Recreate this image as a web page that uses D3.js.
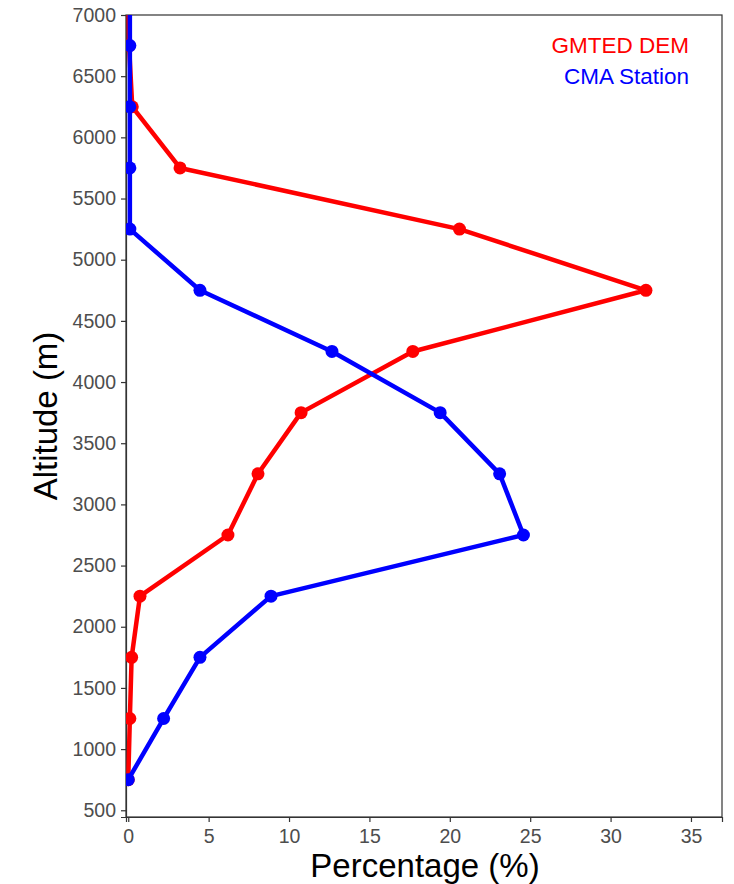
<!DOCTYPE html>
<html>
<head>
<meta charset="utf-8">
<script src="https://cdn.jsdelivr.net/npm/d3@7"></script>
<style>
  html, body { margin: 0; padding: 0; background: #fff; }
  svg { display: block; }
  text { font-family: Arial, "Liberation Sans", sans-serif; }
</style>
</head>
<body>
<svg id="chart" width="734" height="884"></svg>
<script>
// Altitude bin centres (m)
const altitudes = [750, 1250, 1750, 2250, 2750, 3250, 3750, 4250, 4750, 5250, 5750, 6250, 6750, 7250];
// Share of area / stations per altitude bin (%)
const demValues = [0, 0.1, 0.21, 0.73, 6.2, 8.07, 10.75, 17.7, 32.2, 20.6, 3.22, 0.25, 0.05, 0];
const stationValues = [0, 2.2, 4.46, 8.88, 24.58, 23.1, 19.4, 12.67, 4.46, 0.1, 0.1, 0.1, 0.1, 0.1];
const seriesNames = ["GMTED DEM", "CMA Station"];
const seriesColors = ["#ff0000", "#0000ff"];
const xTicks = [0, 5, 10, 15, 20, 25, 30, 35];
const yTicks = [500, 1000, 1500, 2000, 2500, 3000, 3500, 4000, 4500, 5000, 5500, 6000, 6500, 7000];

const svg = d3.select("#chart");
const pLeft = 126, pRight = 722, pTop = 15, pBottom = 817;

const x = d3.scaleLinear().domain([-0.14, 36.93]).range([pLeft, pRight]);
const y = d3.scaleLinear().domain([445, 7000]).range([pBottom, pTop]);

svg.append("defs").append("clipPath").attr("id", "panel")
  .append("rect").attr("x", pLeft).attr("y", pTop)
  .attr("width", pRight - pLeft).attr("height", pBottom - pTop);

// panel border
svg.append("rect")
  .attr("x", pLeft).attr("y", pTop)
  .attr("width", pRight - pLeft).attr("height", pBottom - pTop)
  .attr("fill", "none").attr("stroke", "#333").attr("stroke-width", 1.2);

// axes
const xAxis = svg.append("g").attr("transform", `translate(0,${pBottom})`)
  .call(d3.axisBottom(x).tickValues(xTicks).tickSize(5).tickPadding(7).tickFormat(d3.format("d")));
const yAxis = svg.append("g").attr("transform", `translate(${pLeft},0)`)
  .call(d3.axisLeft(y).tickValues(yTicks).tickSize(5).tickPadding(5).tickFormat(d3.format("d")));
[xAxis, yAxis].forEach(g => {
  g.select(".domain").attr("stroke", "#333").attr("stroke-width", 1.2);
  g.selectAll(".tick line").attr("stroke", "#333").attr("stroke-width", 1.2);
  g.selectAll(".tick text").attr("fill", "#4d4d4d").style("font-size", "19.5px")
    .style("font-family", "Arial, 'Liberation Sans', sans-serif");
});

// series
const series = [demValues, stationValues];
const plot = svg.append("g").attr("clip-path", "url(#panel)");
const line = d3.line().x(d => x(d[0])).y(d => y(d[1]));

series.forEach((vals, i) => {
  const pts = vals.map((v, k) => [v, altitudes[k]]);
  plot.append("path").datum(pts)
    .attr("d", line).attr("fill", "none")
    .attr("stroke", seriesColors[i]).attr("stroke-width", 4.5)
    .attr("stroke-linejoin", "round");
  plot.selectAll(null).data(pts).enter().append("circle")
    .attr("cx", d => x(d[0])).attr("cy", d => y(d[1]))
    .attr("r", 6.5).attr("fill", seriesColors[i]);
});

// legend
seriesNames.forEach((name, i) => {
  svg.append("text")
    .attr("x", 689).attr("y", 53 + i * 31)
    .attr("text-anchor", "end")
    .attr("fill", seriesColors[i])
    .style("font-size", "22.5px")
    .text(name);
});

// axis titles
svg.append("text")
  .attr("x", 425).attr("y", 877)
  .attr("text-anchor", "middle")
  .style("font-size", "33px").attr("fill", "#000")
  .text("Percentage (%)");
svg.append("text")
  .attr("transform", `translate(57,416) rotate(-90)`)
  .attr("text-anchor", "middle")
  .style("font-size", "33px").attr("fill", "#000")
  .text("Altitude (m)");
</script>
</body>
</html>
